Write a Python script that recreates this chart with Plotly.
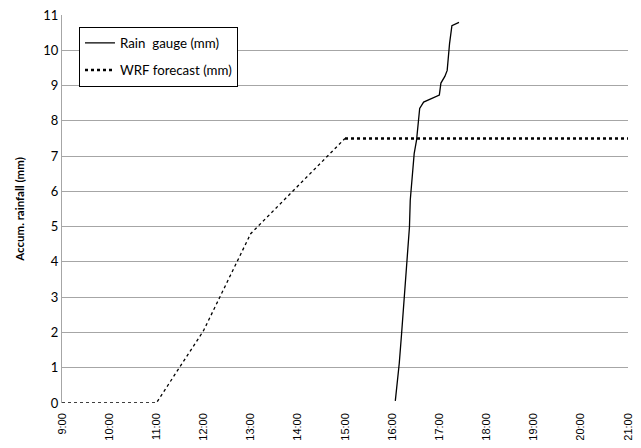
import plotly.graph_objects as go

day = "2000-01-01 "
gauge_times = ["16:04", "16:09", "16:12", "16:22", "16:23", "16:26", "16:28", "16:31",
               "16:34", "16:35", "16:40", "17:00", "17:02", "17:07", "17:10", "17:13",
               "17:16", "17:25"]
gauge_mm = [0.06, 1.12, 1.97, 4.99, 5.75, 6.5, 7.07, 7.45, 8.02, 8.35, 8.53, 8.73,
            9.07, 9.26, 9.43, 10.19, 10.70, 10.79]

wrf_times_a = ["09:00", "10:00", "11:00", "12:00", "13:00", "14:00", "15:00"]
wrf_mm_a = [0, 0, 0, 2.05, 4.8, 6.15, 7.5]
wrf_times_b = ["15:00", "16:00", "17:00", "18:00", "19:00", "20:00", "21:00"]
wrf_mm_b = [7.5, 7.5, 7.5, 7.5, 7.5, 7.5, 7.5]

y_ticks = list(range(0, 12))

fig = go.Figure()
fig.add_trace(go.Scatter(x=[day + t for t in gauge_times], y=gauge_mm, mode="lines",
                         name="Rain  gauge (mm)", legendgroup="g1",
                         line=dict(color="black", width=1.3)))
fig.add_trace(go.Scatter(x=[day + t for t in wrf_times_a], y=wrf_mm_a, mode="lines",
                         showlegend=False, legendgroup="g2",
                         line=dict(color="black", width=1.3, dash="dot")))
fig.add_trace(go.Scatter(x=[day + t for t in wrf_times_b], y=wrf_mm_b, mode="lines",
                         name="WRF forecast (mm)", legendgroup="g2",
                         line=dict(color="black", width=2.5, dash="dot")))

fig.update_layout(
    width=625, height=432,
    margin=dict(l=54, r=5, t=7, b=37),
    paper_bgcolor="white", plot_bgcolor="white",
    font=dict(family="Lato, Liberation Sans, sans-serif", size=12, color="black"),
    showlegend=True,
    legend=dict(x=0.03, y=0.97, xanchor="left", yanchor="top",
                bordercolor="black", borderwidth=1, bgcolor="white",
                font=dict(size=13.3), tracegroupgap=7, itemwidth=30),
    xaxis=dict(type="date", range=[day + "09:00", day + "21:00"],
               dtick=3600000, tick0=day + "09:00", tickformat="%-H:%M",
               tickangle=-90, showgrid=False, zeroline=False, showline=False,
               ticks="", automargin=False, ticklabeloverflow="allow",
               ticklabelstandoff=7,
               tickfont=dict(family="Liberation Sans, Arial", size=11)),
    yaxis=dict(range=[0, 11], tickvals=y_ticks, showgrid=True, gridcolor="#a6a6a6",
               gridwidth=1, zeroline=False, showline=True, linecolor="#a6a6a6",
               linewidth=1, ticks="", tickfont=dict(size=13), automargin=False,
               ticklabeloverflow="allow",
               title=dict(text="<b>Accum. rainfall (mm)</b>", font=dict(size=11.5), standoff=16)),
)

fig.write_html("out.html")
